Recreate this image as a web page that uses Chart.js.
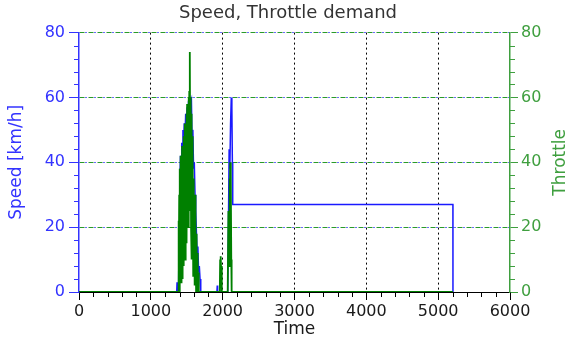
<!DOCTYPE html>
<html>
<head>
<meta charset="utf-8">
<script src="https://cdn.jsdelivr.net/npm/chart.js@4"></script>
<style>
html, body { margin: 0; padding: 0; background: #fff; }
</style>
</head>
<body>
<canvas id="chart" width="576" height="342"></canvas>
<script>
// data (time in s)
const speedTime = [0, 1360, 1365, 1372, 1385, 1395, 1400, 1405, 1412, 1420, 1430, 1440, 1447, 1455, 1465, 1475, 1485, 1495, 1505, 1515, 1525, 1535, 1545, 1555, 1565, 1575, 1585, 1595, 1605, 1615, 1625, 1635, 1645, 1655, 1665, 1675, 1685, 1695, 1920, 1925, 1930, 2070, 2080, 2090, 2100, 2110, 2120, 2128, 2135, 2140, 5205, 5206];
const speedKmh = [0, 0, 3, 0, 0, 20, 38, 30, 42, 33, 46, 40, 50, 44, 52, 47, 55, 50, 57, 52, 59, 55, 59, 58, 59, 45, 50, 38, 40, 30, 25, 18, 12, 14, 6, 8, 4, 0, 0, 2, 0, 0, 20, 44, 38, 52, 60, 57, 40, 27, 27, 0];

const throttleTime = [0, 1380, 1385, 1390, 1395, 1400, 1405, 1410, 1415, 1420, 1425, 1430, 1435, 1440, 1445, 1450, 1455, 1460, 1465, 1470, 1475, 1480, 1485, 1490, 1495, 1500, 1505, 1510, 1515, 1520, 1525, 1530, 1535, 1540, 1545, 1550, 1555, 1560, 1565, 1570, 1575, 1580, 1585, 1590, 1595, 1600, 1605, 1610, 1615, 1620, 1625, 1630, 1635, 1640, 1645, 1650, 1655, 1660, 1665, 1670, 1960, 1965, 1970, 1975, 1980, 1985, 1990, 2070, 2080, 2090, 2095, 2100, 2105, 2110, 2115, 2120, 2125, 5205];
const throttleValue = [0, 0, 22, 2, 30, 0, 38, 6, 42, 3, 35, 12, 45, 4, 40, 15, 48, 8, 44, 20, 52, 10, 50, 25, 55, 15, 58, 30, 50, 20, 60, 35, 62, 25, 74, 30, 60, 20, 55, 10, 48, 20, 40, 5, 35, 12, 28, 2, 30, 8, 20, 0, 18, 3, 12, 0, 8, 1, 6, 0, 0, 10, 3, 11, 6, 8, 0, 0, 25, 8, 35, 20, 40, 15, 37, 10, 0, 0];

const timeTicks = [0, 1000, 2000, 3000, 4000, 5000, 6000];
const speedTicks = [0, 20, 40, 60, 80];
const throttleTicks = [0, 20, 40, 60, 80];

const font = "'DejaVu Sans', sans-serif";
const blue = "#3333ff";
const green = "#3f9f3f";

function points(xs, ys) {
  return xs.map((x, i) => ({ x: x, y: ys[i] }));
}

function fixedTicks(values) {
  return function (scale) {
    scale.ticks = values.map(v => ({ value: v }));
  };
}

// small unlabeled ticks between the labeled ones
const minorTicks = {
  id: "minorTicks",
  afterDraw(chart) {
    const ctx = chart.ctx;
    const area = chart.chartArea;
    ctx.save();
    ctx.lineWidth = 1;

    const x = chart.scales.x;
    ctx.strokeStyle = "#000";
    for (let v = 200; v < 6000; v += 200) {
      if (v % 1000 === 0) continue;
      const px = Math.round(x.getPixelForValue(v)) + 0.5;
      ctx.beginPath();
      ctx.moveTo(px, area.bottom);
      ctx.lineTo(px, area.bottom + 5);
      ctx.stroke();
    }

    const y = chart.scales.y;
    ctx.strokeStyle = blue;
    for (let v = 4; v < 80; v += 4) {
      if (v % 20 === 0) continue;
      const py = Math.round(y.getPixelForValue(v)) + 0.5;
      ctx.beginPath();
      ctx.moveTo(area.left - 5, py);
      ctx.lineTo(area.left, py);
      ctx.stroke();
    }

    const y2 = chart.scales.y2;
    ctx.strokeStyle = green;
    for (let v = 4; v < 80; v += 4) {
      if (v % 20 === 0) continue;
      const py = Math.round(y2.getPixelForValue(v)) + 0.5;
      ctx.beginPath();
      ctx.moveTo(area.right, py);
      ctx.lineTo(area.right + 5, py);
      ctx.stroke();
    }

    // right axis title, reading bottom to top like the left one
    ctx.fillStyle = green;
    ctx.font = "17px " + font;
    ctx.textAlign = "center";
    ctx.textBaseline = "middle";
    ctx.translate(561, (area.top + area.bottom) / 2);
    ctx.rotate(-Math.PI / 2);
    ctx.fillText("Throttle", 0, 0);
    ctx.restore();
  }
};

new Chart(document.getElementById("chart"), {
  type: "scatter",
  data: {
    datasets: [
      {
        label: "Throttle",
        data: points(throttleTime, throttleValue),
        yAxisID: "y2",
        showLine: true,
        borderColor: "#008000",
        borderWidth: 1.8,
        pointRadius: 0,
        order: 0
      },
      {
        label: "Speed",
        data: points(speedTime, speedKmh),
        yAxisID: "y",
        showLine: true,
        borderColor: "#1a1aff",
        borderWidth: 1.5,
        pointRadius: 0,
        order: 1
      }
    ]
  },
  options: {
    responsive: false,
    animation: false,
    devicePixelRatio: 1,
    layout: { padding: 0 },
    plugins: {
      legend: { display: false },
      tooltip: { enabled: false },
      title: {
        display: true,
        text: "Speed, Throttle demand",
        color: "#333",
        font: { family: font, size: 18, weight: "normal" },
        padding: { top: 3, bottom: 8 }
      }
    },
    scales: {
      x: {
        type: "linear",
        min: 0,
        max: 6000,
        afterBuildTicks: fixedTicks(timeTicks),
        afterFit(scale) { scale.height = 50; },
        ticks: { color: "#1a1a1a", font: { family: font, size: 16 }, padding: 2, maxRotation: 0, callback: v => String(v) },
        grid: {
          color: c => (c.tick && (c.tick.value === 0 || c.tick.value === 6000)) ? "rgba(0,0,0,0)" : "#000",
          tickColor: "#000",
          tickLength: 8,
          lineWidth: 1
        },
        border: { color: "#000", width: 1, dash: [2, 3] },
        title: { display: true, text: "Time", color: "#1a1a1a", font: { family: font, size: 17 }, padding: { top: 0, bottom: 2 } }
      },
      y: {
        position: "left",
        min: 0,
        max: 80,
        afterBuildTicks: fixedTicks(speedTicks),
        afterFit(scale) { scale.width = 79; },
        ticks: { color: blue, font: { family: font, size: 16 }, padding: 4 },
        grid: {
          color: c => (c.tick && c.tick.value === 0) ? "rgba(0,0,0,0)" : "#2a9a2a",
          tickColor: blue,
          tickLength: 10,
          lineWidth: 1
        },
        border: { color: blue, width: 1.5, dash: [5, 4] },
        title: { display: true, text: "Speed [km/h]", color: blue, font: { family: font, size: 17 }, padding: { top: 6, bottom: 0 } }
      },
      y2: {
        position: "right",
        min: 0,
        max: 80,
        afterBuildTicks: fixedTicks(throttleTicks),
        afterFit(scale) { scale.width = 66; },
        ticks: { color: green, font: { family: font, size: 16 }, padding: 3 },
        grid: {
          color: c => (c.tick && c.tick.value === 0) ? "rgba(0,0,0,0)" : "#6a6aff",
          tickColor: green,
          tickLength: 8,
          lineWidth: 1
        },
        border: { color: green, width: 1.5, dash: [2, 7], dashOffset: -6 }
      }
    }
  },
  plugins: [minorTicks]
});
</script>
</body>
</html>
